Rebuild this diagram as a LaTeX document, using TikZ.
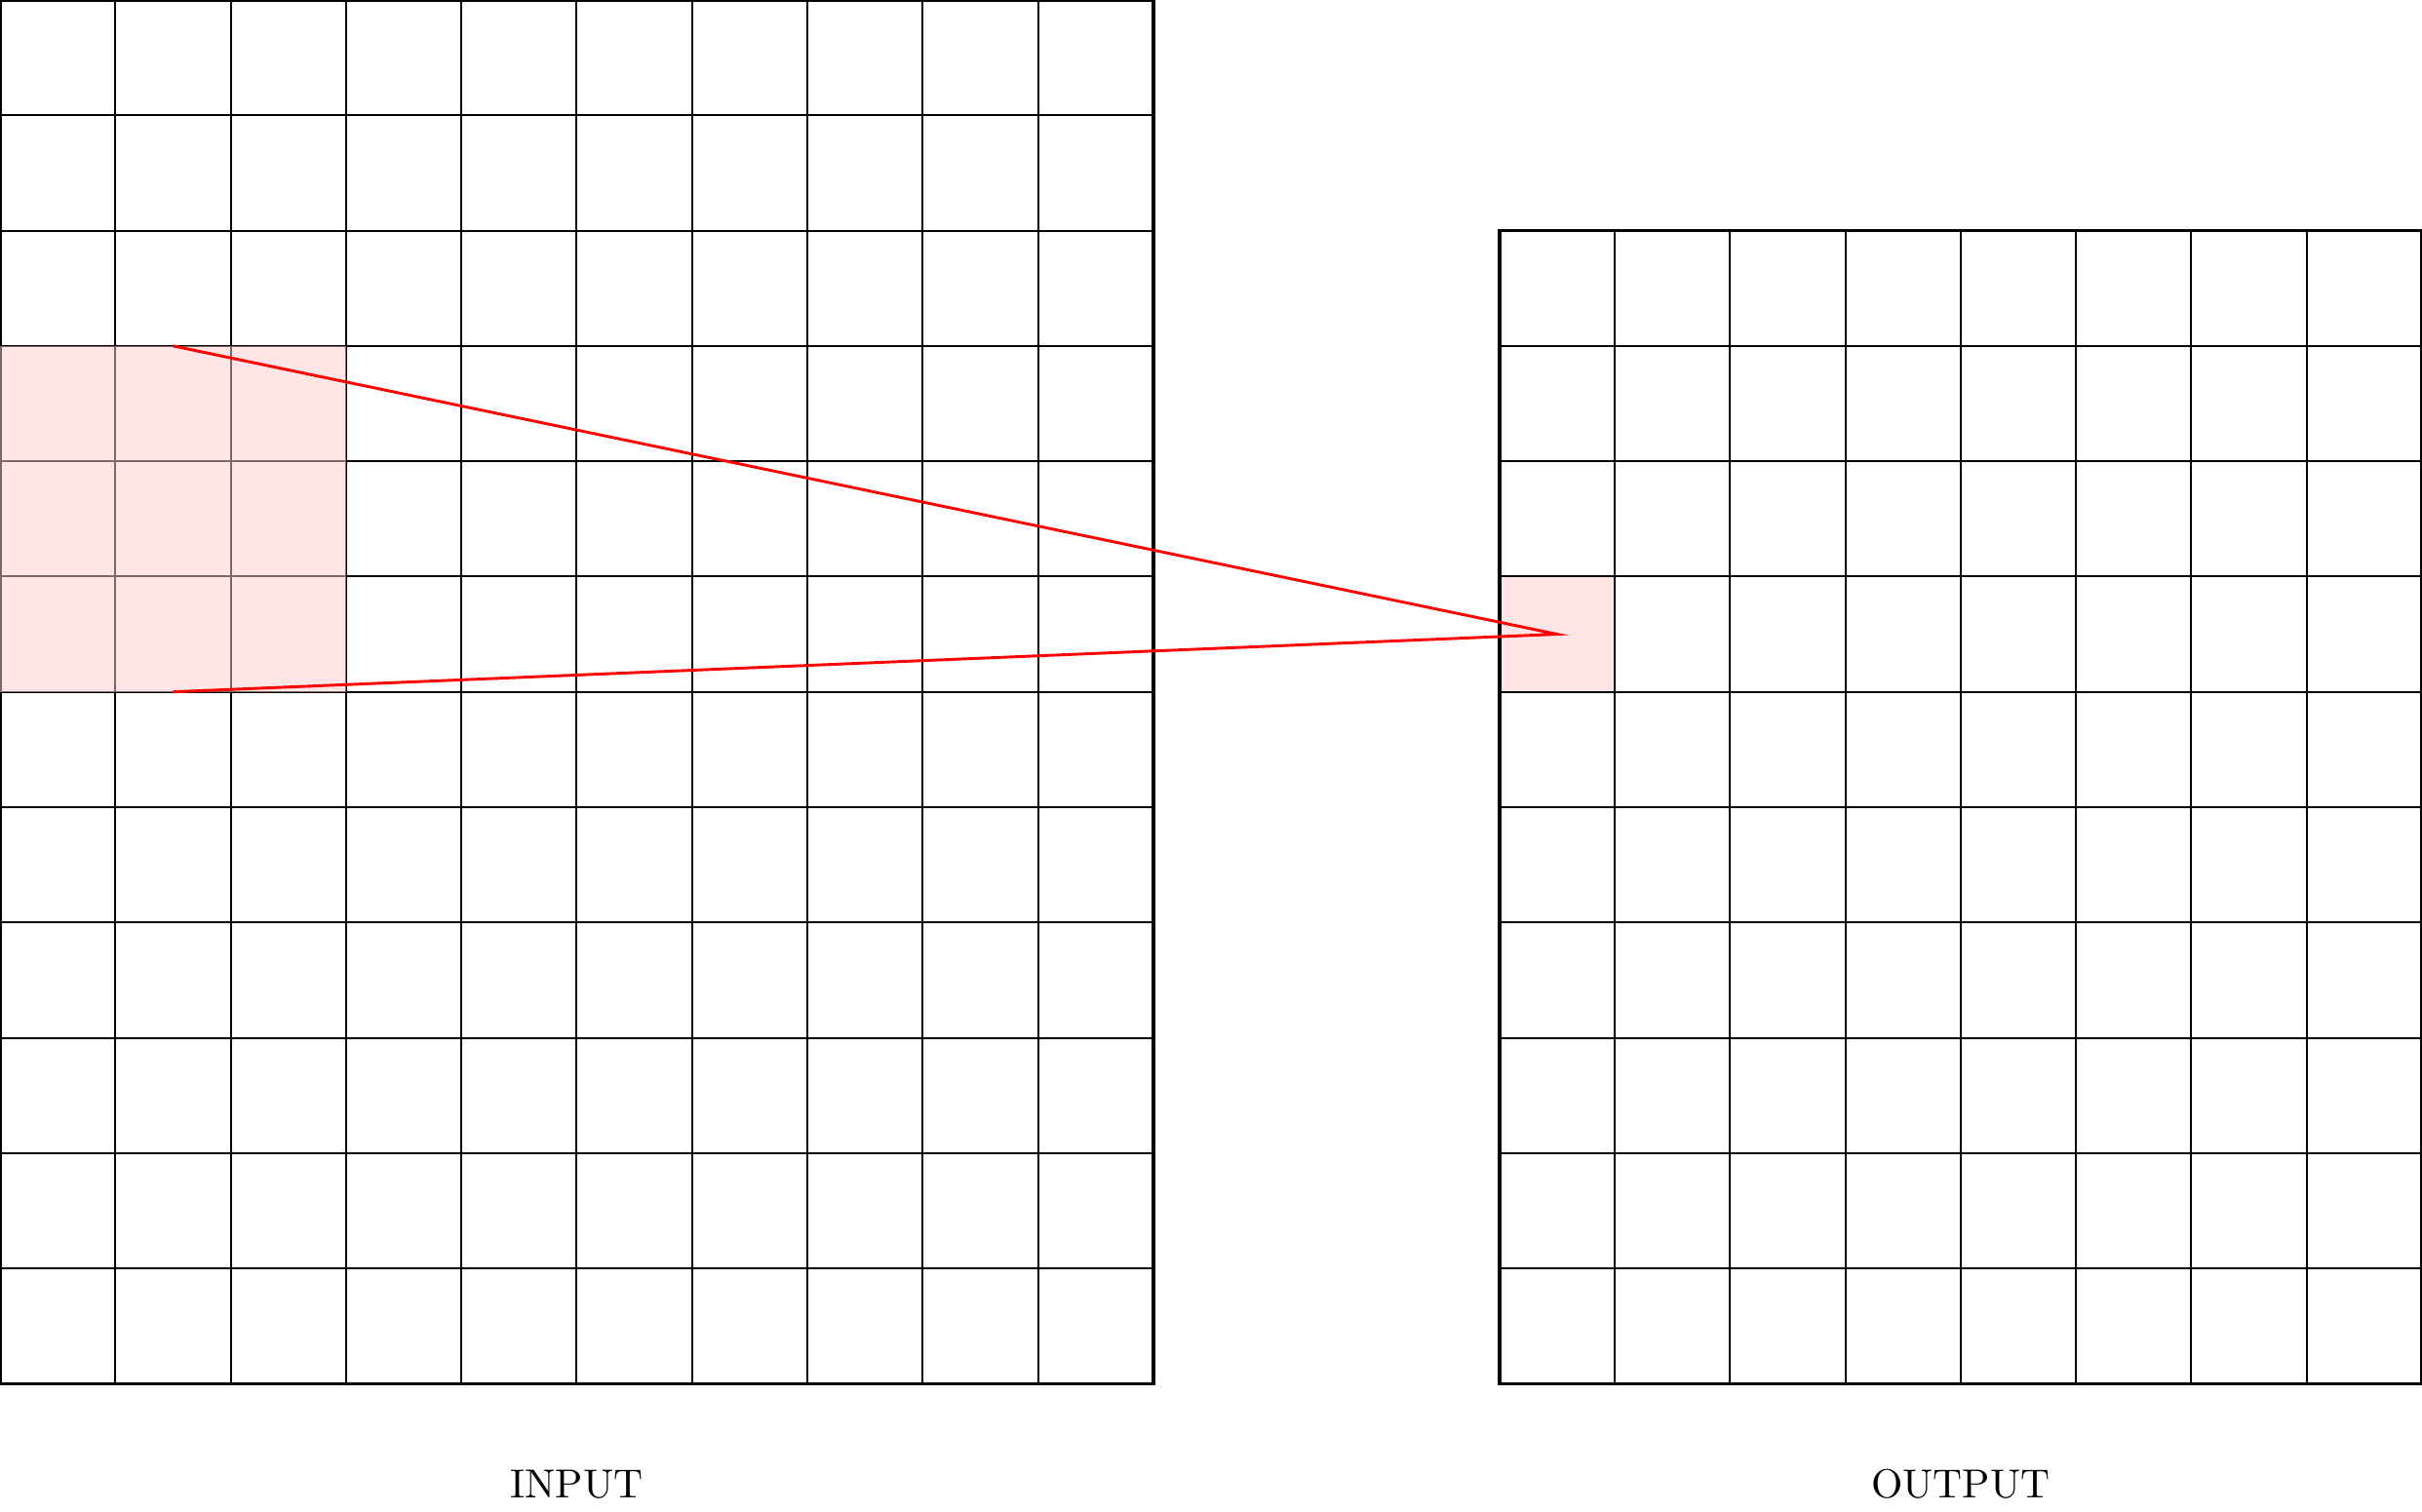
\documentclass[tikz,border=0pt]{standalone}
\begin{document}
\begin{tikzpicture}[
  gridline/.style={line width=0.5pt, black},
  frameline/.style={line width=0.9pt, black},
  hilite/.style={fill=red!20, opacity=0.5},
  cellfill/.style={fill=red!10},
  rfline/.style={red, line width=0.7pt, line join=miter},
  lbl/.style={font=\normalsize}
]
\useasboundingbox (0,-1.111) rectangle (21,12);
% output highlighted cell (under the grid)
\fill[cellfill] (13,6) rectangle (14,7);
% input grid
\draw[gridline] (0,0) grid (10,12);
\draw[frameline] (0,0) rectangle (10,12);
% output grid
\draw[gridline] (13,0) grid (21,10);
\draw[frameline] (13,0) rectangle (21,10);
% receptive field highlight
\fill[hilite] (0,6) rectangle (3,9);
% named points
\coordinate (rfTop) at (1.5,9);
\coordinate (rfBot) at (1.5,6);
\coordinate (tip) at (13.5,6.5);
\draw[rfline] (rfTop) -- (tip) -- (rfBot);
% labels
\node[lbl] (inLabel) at (5,-0.87) {INPUT};
\node[lbl] (outLabel) at (17,-0.87) {OUTPUT};
\end{tikzpicture}
\end{document}
